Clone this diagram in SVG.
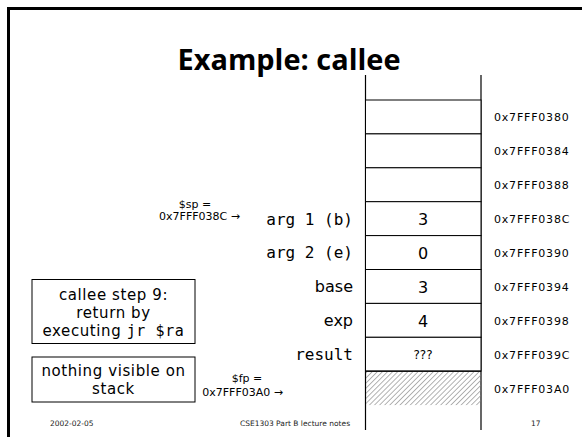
<svg xmlns="http://www.w3.org/2000/svg" width="582" height="437" viewBox="0 0 582 437">
  <defs>
    <!-- diagonal hatching for the frame-pointer slot -->
    <pattern id="hatch" patternUnits="userSpaceOnUse" width="3.6" height="4" patternTransform="rotate(45)">
      <line x1="0" y1="0" x2="0" y2="4" stroke="#8a8a8a" stroke-width="1.3"/>
    </pattern>
  </defs>
  <style>
    .frame { fill: none; stroke: #000; stroke-width: 3; }
    .rail { stroke: #000; stroke-width: 1.2; }
    .cell { fill: #fff; stroke: #000; stroke-width: 1; }
    .title { font-family: "Open Sans", "DejaVu Sans", sans-serif; font-weight: 700; font-size: 29px; text-anchor: middle; fill: #000; }
    .addr { font-family: "DejaVu Sans", sans-serif; font-size: 11px; letter-spacing: 0.8px; fill: #000; }
    .val { font-family: "DejaVu Sans", sans-serif; font-size: 16px; text-anchor: middle; fill: #000; }
    .q { font-family: "DejaVu Sans", sans-serif; font-size: 12px; text-anchor: middle; fill: #000; }
    .lbl { font-family: "DejaVu Sans Mono", monospace; font-size: 16px; text-anchor: end; fill: #000; }
    .lbls { font-family: "DejaVu Sans", sans-serif; font-size: 16px; text-anchor: end; fill: #000; }
    .ptr { font-family: "DejaVu Sans", sans-serif; font-size: 11px; fill: #000; }
    .note { fill: #fff; stroke: #000; stroke-width: 1; }
    .notet { font-family: "DejaVu Sans", sans-serif; font-size: 15px; letter-spacing: 0.6px; text-anchor: middle; fill: #000; }
    .mono { font-family: "DejaVu Sans Mono", monospace; }
    .foot { font-family: "DejaVu Sans", sans-serif; font-size: 7.5px; fill: #222; }
  </style>

  <!-- slide frame -->
  <path class="frame" d="M8.5,437 V8.5 H582"/>

  <text class="title" x="289" y="70" textLength="223" lengthAdjust="spacingAndGlyphs">Example: callee</text>

  <!-- stack rails -->
  <g id="stack-rails">
    <line class="rail" x1="365.5" y1="75" x2="365.5" y2="430"/>
    <line class="rail" x1="481" y1="75" x2="481" y2="430"/>
  </g>

  <!-- stack slots -->
  <g id="slot-0380">
    <rect class="cell" x="365.5" y="100" width="115.5" height="33.9"/>
    <text class="addr" x="494" y="121">0x7FFF0380</text>
  </g>
  <g id="slot-0384">
    <rect class="cell" x="365.5" y="133.9" width="115.5" height="33.9"/>
    <text class="addr" x="494" y="155">0x7FFF0384</text>
  </g>
  <g id="slot-0388">
    <rect class="cell" x="365.5" y="167.8" width="115.5" height="33.9"/>
    <text class="addr" x="494" y="189">0x7FFF0388</text>
  </g>
  <g id="slot-038C">
    <rect class="cell" x="365.5" y="201.7" width="115.5" height="33.9"/>
    <text class="val" x="423" y="225">3</text>
    <text class="lbl" x="353" y="225">arg 1 (b)</text>
    <text class="addr" x="494" y="223">0x7FFF038C</text>
  </g>
  <g id="slot-0390">
    <rect class="cell" x="365.5" y="235.6" width="115.5" height="33.9"/>
    <text class="val" x="423" y="259">0</text>
    <text class="lbl" x="353" y="258">arg 2 (e)</text>
    <text class="addr" x="494" y="257">0x7FFF0390</text>
  </g>
  <g id="slot-0394">
    <rect class="cell" x="365.5" y="269.5" width="115.5" height="33.9"/>
    <text class="val" x="423" y="293">3</text>
    <text class="lbls" x="353" y="292">base</text>
    <text class="addr" x="494" y="291">0x7FFF0394</text>
  </g>
  <g id="slot-0398">
    <rect class="cell" x="365.5" y="303.4" width="115.5" height="33.9"/>
    <text class="val" x="423" y="327">4</text>
    <text class="lbls" x="353" y="326">exp</text>
    <text class="addr" x="494" y="325">0x7FFF0398</text>
  </g>
  <g id="slot-039C">
    <rect class="cell" x="365.5" y="337.3" width="115.5" height="33.9"/>
    <text class="q" x="423" y="359">???</text>
    <text class="lbl" x="353" y="360">result</text>
    <text class="addr" x="494" y="359">0x7FFF039C</text>
  </g>
  <g id="slot-03A0">
    <rect x="366" y="371.7" width="114.5" height="33.4" fill="url(#hatch)"/>
    <line class="rail" x1="365.5" y1="371.2" x2="481" y2="371.2"/>
    <text class="addr" x="494" y="393">0x7FFF03A0</text>
  </g>

  <!-- register pointers -->
  <g id="connectors">
    <g id="sp-pointer">
      <text class="ptr" x="195" y="208" text-anchor="middle">$sp =</text>
      <text class="ptr" x="240" y="220" text-anchor="end">0x7FFF038C →</text>
    </g>
    <g id="fp-pointer">
      <text class="ptr" x="247" y="382" text-anchor="middle">$fp =</text>
      <text class="ptr" x="283" y="396" text-anchor="end">0x7FFF03A0 →</text>
    </g>
  </g>

  <!-- notes -->
  <g id="note-step">
    <rect class="note" x="32" y="279.5" width="163" height="64"/>
    <text class="notet" x="113.5" y="300">callee step 9:</text>
    <text class="notet" x="113.5" y="318">return by</text>
    <text class="notet" x="113.5" y="336">executing <tspan class="mono">jr $ra</tspan></text>
  </g>
  <g id="note-stack">
    <rect class="note" x="32" y="357" width="163" height="45"/>
    <text class="notet" x="113.5" y="376">nothing visible on</text>
    <text class="notet" x="113.5" y="394">stack</text>
  </g>

  <!-- footer -->
  <text class="foot" x="50" y="426">2002-02-05</text>
  <text class="foot" x="295" y="426" text-anchor="middle">CSE1303 Part B lecture notes</text>
  <text class="foot" x="531" y="426">17</text>
</svg>
